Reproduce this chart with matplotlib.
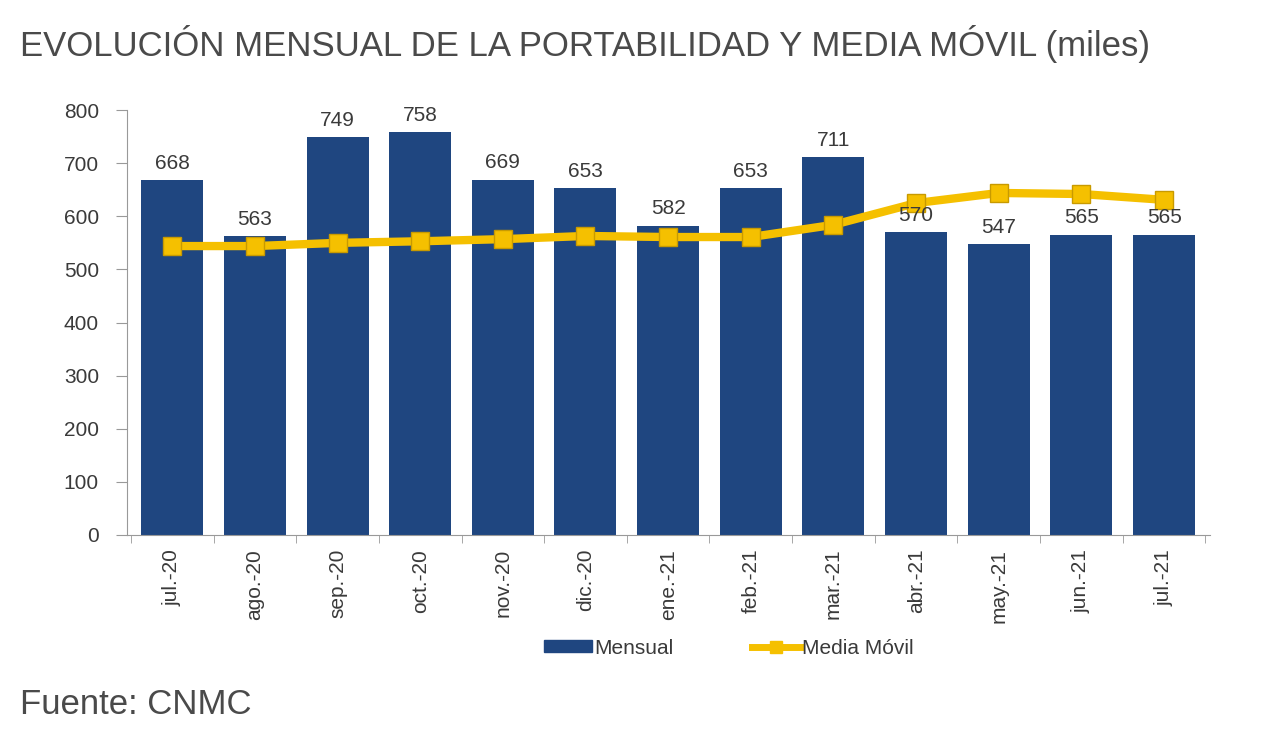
import matplotlib.pyplot as plt
from matplotlib.lines import Line2D
from matplotlib.patches import Patch
import numpy as np

plt.rcParams['font.family'] = ['Liberation Sans', 'DejaVu Sans']

meses = ['jul.-20', 'ago.-20', 'sep.-20', 'oct.-20', 'nov.-20', 'dic.-20', 'ene.-21',
         'feb.-21', 'mar.-21', 'abr.-21', 'may.-21', 'jun.-21', 'jul.-21']
mensual = [668, 563, 749, 758, 669, 653, 582, 653, 711, 570, 547, 565, 565]
media_movil = [544, 544, 550, 553, 557, 563, 561, 561, 584, 625, 644, 642, 631]

azul = '#1f4680'
amarillo = '#f5c000'
gris = '#3a3a3a'

fig = plt.figure(figsize=(12.8, 7.44), dpi=100)
ax = fig.add_axes([0.099, 0.281, 0.846, 0.571])

x = np.arange(len(meses))
ax.bar(x, mensual, width=0.75, color=azul, zorder=2)
ax.plot(x, media_movil, color=amarillo, linewidth=6, marker='s', markersize=13,
        markeredgecolor='#c89a00', markeredgewidth=1, zorder=3)

for xi, v in zip(x, mensual):
    ax.text(xi, v + 14, str(v), ha='center', va='bottom', fontsize=15, color=gris, zorder=4)

ax.set_xlim(-0.55, len(meses) - 0.45)
ax.set_ylim(0, 800)
ax.set_yticks(range(0, 801, 100))
ax.set_xticks(x)
ax.set_xticklabels(meses, rotation=90, fontsize=15, color=gris)
ax.tick_params(axis='x', length=0, pad=10)
ax.set_xticks(np.arange(-0.5, len(meses), 1), minor=True)
ax.tick_params(axis='x', which='minor', length=6, color='#999999')
ax.tick_params(axis='y', labelsize=15, labelcolor=gris, length=8, color='#999999', pad=12)

for s in ['top', 'right']:
    ax.spines[s].set_visible(False)
for s in ['left', 'bottom']:
    ax.spines[s].set_color('#999999')

handles = [Patch(color=azul, label='Mensual'),
           Line2D([], [], color=amarillo, linewidth=5, marker='s', markersize=8,
                  markeredgecolor=amarillo, label='Media Móvil')]
leg = ax.legend(handles=handles, loc='upper center', bbox_to_anchor=(0.556, -0.2), ncol=2,
                frameon=False, fontsize=15, handlelength=2.3, handleheight=0.5,
                handletextpad=0.1, columnspacing=3.8)
for t in leg.get_texts():
    t.set_color(gris)

fig.text(0.016, 0.925, 'EVOLUCIÓN MENSUAL DE LA PORTABILIDAD Y MEDIA MÓVIL (miles)',
         fontsize=25, color='#4a4a4a')
fig.text(0.016, 0.04, 'Fuente: CNMC', fontsize=25, color='#4a4a4a')

fig.savefig('out.png', dpi=100)
